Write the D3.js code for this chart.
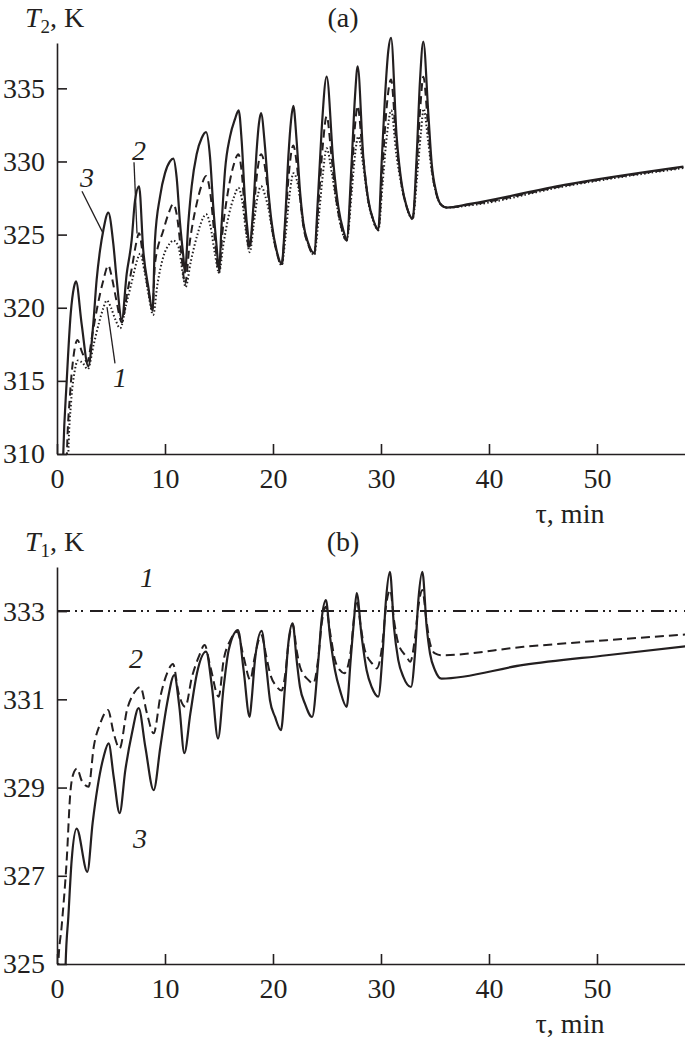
<!DOCTYPE html>
<html>
<head>
<meta charset="utf-8">
<script src="https://cdnjs.cloudflare.com/ajax/libs/d3/7.8.5/d3.min.js"></script>
<style>
  body { margin: 0; background: #fff; }
  svg { display: block; }
  text { font-family: "Liberation Serif", "Times New Roman", serif; fill: #231f20; }
</style>
</head>
<body>
<div id="chart"></div>
<script>
// time axis (min)
const tTicks = [0, 10, 20, 30, 40, 50];
const t2Ticks = [310, 315, 320, 325, 330, 335];
const t1Ticks = [325, 327, 329, 331, 333];

// panel (a): T2 vs time, curves 1 (dotted), 2 (dashed), 3 (solid)
const t2Curve3 = [
  [0.45,306],[0.58,310],[0.9,315.0],[1.27,319.6],[1.57,321.4],[1.76,321.8],[2.28,318.9],[2.9,316.0],
  [3.36,318.9],[3.67,321.9],[3.98,323.9],[4.29,325.3],[4.75,326.5],[5.21,324.4],[5.53,321.9],[6.0,319.2],
  [6.45,322.3],[6.91,324.6],[7.22,327.3],[7.6,328.3],[7.99,323.9],[8.46,321.4],[8.85,319.8],
  [9.07,324.6],[9.54,327.6],[10.0,329.2],[10.46,330.0],[10.77,330.2],[11.08,328.9],[11.39,325.8],[11.7,323.5],[11.85,322.4],
  [12.16,325.8],[12.47,328.3],[12.93,330.5],[13.4,331.6],[13.8,332.0],[14.17,330.3],[14.47,326.9],[14.78,324.2],[15.0,322.6],
  [15.25,325.8],[15.56,329.4],[16.02,331.7],[16.48,332.9],[16.82,333.5],[17.1,331.4],[17.41,327.3],[17.71,324.8],[17.81,324.2],
  [18.18,326.9],[18.49,330.8],[18.7,332.6],[18.89,333.3],[19.26,331.0],[19.57,328.0],[19.88,325.8],[20.34,323.9],[20.8,323.0],
  [21.11,325.8],[21.42,330.3],[21.67,332.8],[21.88,333.8],[22.19,331.4],[22.5,328.0],[22.81,325.8],[23.27,324.4],[23.8,323.75],
  [24.2,328.0],[24.5,332.1],[24.97,335.8],[25.59,329.9],[26.05,326.9],[26.51,325.3],[26.82,324.7],
  [27.28,329.9],[27.59,334.4],[27.84,336.5],[28.36,330.3],[28.83,327.35],[29.29,326.0],[29.75,325.35],
  [30.06,329.9],[30.37,334.4],[30.68,337.6],[30.93,338.45],[31.45,331.7],[31.91,328.5],[32.38,326.9],[32.93,326.1],
  [33.3,330.3],[33.61,335.5],[33.92,338.2],[34.38,333.3],[34.69,329.9],[35.15,327.8],[35.62,327.0],[36.08,326.85],
  [38.24,327.1],[47,328.4],[58,329.65]
];
const t2Curve2 = [
  [0.8,306],[0.92,310],[1.2,314.0],[1.5,316.5],[1.9,317.8],[2.3,317.0],[2.8,316.3],
  [3.3,318.3],[3.8,320.3],[4.3,321.9],[4.75,322.9],[5.1,322.0],[5.5,320.5],[6.0,319.0],
  [6.5,321.0],[7.0,323.0],[7.3,324.3],[7.6,325.1],[8.0,323.3],[8.45,321.2],[8.85,319.9],
  [9.07,323.0],[9.85,325.3],[10.31,326.4],[10.77,327.1],[11.08,326.4],[11.54,323.5],[11.85,321.6],
  [12.3,324.5],[12.9,327.0],[13.4,328.4],[13.8,329.0],[14.2,327.8],[14.6,324.8],[15.0,322.4],
  [15.3,325.0],[15.8,327.8],[16.3,329.6],[16.8,330.5],[17.1,329.3],[17.45,326.0],[17.8,324.0],
  [18.15,326.0],[18.5,329.0],[18.89,330.5],[19.26,329.6],[19.57,327.6],[19.88,325.6],[20.34,323.8],[20.8,322.9],
  [21.11,325.4],[21.45,329.0],[21.88,331.1],[22.19,329.9],[22.5,327.6],[22.81,325.6],[23.27,324.3],[23.8,323.6],
  [24.2,327.0],[24.6,331.0],[24.97,333.1],[25.4,330.5],[25.8,327.7],[26.3,325.6],[26.82,324.6],
  [27.28,328.8],[27.6,332.5],[27.84,333.8],[28.25,331.0],[28.83,327.3],[29.29,326.0],[29.75,325.3],
  [30.1,329.0],[30.5,333.5],[30.93,335.6],[31.4,331.5],[31.91,328.4],[32.38,326.9],[32.93,326.1],
  [33.3,329.5],[33.65,333.8],[33.92,335.8],[34.35,332.5],[34.69,329.6],[35.15,327.7],[35.62,327.0],[36.08,326.85],
  [38.24,327.05],[47,328.35],[58,329.6]
];
const t2Curve1 = [
  [0.95,306],[1.05,310],[1.3,313.5],[1.6,315.5],[1.95,316.4],[2.4,316.2],[2.85,315.8],
  [3.4,317.5],[3.9,319.0],[4.3,320.0],[4.6,320.5],[5.0,320.0],[5.4,319.2],[5.85,318.6],
  [6.4,320.2],[7.0,322.0],[7.4,323.2],[7.7,323.7],[8.1,322.5],[8.5,320.8],[8.9,319.5],
  [9.3,321.6],[9.85,323.5],[10.46,324.4],[10.77,324.6],[11.23,324.2],[11.7,322.1],[11.9,321.4],
  [12.4,323.2],[13.0,325.0],[13.5,326.1],[13.8,326.4],[14.2,325.6],[14.6,323.8],[15.0,322.4],
  [15.4,324.3],[15.9,326.3],[16.4,327.6],[16.8,328.2],[17.15,327.3],[17.5,325.2],[17.85,323.8],
  [18.2,325.6],[18.55,327.5],[18.9,328.3],[19.3,327.6],[19.6,326.7],[19.9,325.4],[20.34,323.8],[20.8,322.9],
  [21.15,324.8],[21.5,327.5],[21.9,329.2],[22.25,328.6],[22.55,327.2],[22.85,325.5],[23.3,324.3],[23.8,323.6],
  [24.25,326.3],[24.6,329.0],[24.97,330.9],[25.45,329.2],[25.85,327.3],[26.3,325.5],[26.82,324.6],
  [27.3,328.0],[27.6,330.5],[27.9,331.7],[28.3,330.0],[28.83,327.2],[29.29,325.9],[29.75,325.3],
  [30.15,328.5],[30.55,331.8],[30.95,333.5],[31.4,330.6],[31.91,328.3],[32.38,326.85],[32.93,326.05],
  [33.35,329.0],[33.7,332.0],[33.95,333.6],[34.35,331.5],[34.69,329.4],[35.15,327.7],[35.62,327.0],[36.08,326.85],
  [38.24,327.0],[47,328.3],[58,329.55]
];

// panel (b): T1 vs time, curve 1 is a constant level
const t1Curve1Level = 333;
const t1Curve2 = [
  [0.05,324.5],[0.12,325],[0.43,325.85],[0.9,327.36],[1.23,328.87],[1.5,329.3],[1.85,329.43],[2.3,329.15],[2.93,329.02],
  [3.4,329.92],[4.0,330.45],[4.72,330.76],[5.25,330.23],[5.8,329.89],
  [6.48,330.76],[7.1,331.13],[7.72,331.28],[8.33,330.68],[8.95,330.23],
  [9.57,331.06],[10.19,331.59],[10.74,331.8],[11.27,331.13],[11.88,330.83],
  [12.5,331.51],[13.12,331.96],[13.67,332.23],[14.2,331.74],[14.97,331.06],
  [15.43,331.89],[16.05,332.34],[16.67,332.53],[17.28,331.96],[17.9,331.44],
  [18.3,331.95],[18.9,332.45],[19.4,331.95],[19.72,331.59],[20.3,331.3],[20.8,331.2],
  [21.15,331.6],[21.45,332.3],[21.82,332.7],[22.2,332.1],[22.5,331.74],[23.27,331.44],[23.73,331.36],
  [24.2,331.95],[24.5,332.7],[24.88,333.1],[25.3,332.5],[25.74,331.89],[26.2,331.66],[26.6,331.59],
  [27.2,332.1],[27.5,332.85],[27.75,333.25],[28.1,332.7],[28.5,332.12],[29.29,331.78],[29.6,331.7],
  [30.15,332.3],[30.46,333.1],[30.85,333.48],[31.2,332.8],[31.6,332.27],[32.38,331.96],[32.7,331.85],
  [33.15,332.4],[33.46,333.1],[33.83,333.48],[34.2,332.8],[34.54,332.27],[35.0,332.04],[35.6,332.0],
  [43.2,332.19],[50.9,332.34],[58.2,332.47]
];
const t1Curve3 = [
  [0.75,324.5],[0.8,325.0],[1.05,326.07],[1.36,327.36],[1.82,328.07],[2.81,327.09],
  [3.3,328.2],[3.75,329.0],[4.32,329.7],[4.78,330.0],[5.25,329.24],[5.8,328.42],
  [6.33,329.4],[6.94,330.23],[7.56,330.8],[8.18,329.92],[8.95,328.94],
  [9.57,329.92],[10.19,330.9],[10.86,331.55],[11.33,330.83],[11.79,329.78],
  [12.35,330.68],[12.96,331.59],[13.8,332.08],[14.35,331.28],[14.91,330.11],
  [15.43,331.28],[15.9,332.12],[16.76,332.57],[17.28,331.66],[17.84,330.6],
  [18.02,330.98],[18.33,331.89],[18.95,332.55],[19.41,331.66],[19.72,330.98],[20.19,330.6],[20.74,330.3],
  [21.11,331.28],[21.42,332.27],[21.82,332.72],[22.19,331.89],[22.5,331.28],[22.96,330.9],[23.62,330.6],
  [24.2,331.89],[24.5,332.8],[24.9,333.25],[25.28,332.42],[25.74,331.66],[26.2,331.21],[26.82,330.83],
  [27.19,331.89],[27.5,332.8],[27.75,333.41],[28.21,332.42],[28.67,331.66],[29.14,331.28],[29.75,331.06],
  [30.15,332.04],[30.46,333.25],[30.83,333.89],[31.2,332.64],[31.6,331.89],[32.07,331.51],[32.78,331.28],
  [33.15,332.04],[33.46,333.25],[33.83,333.89],[34.23,332.64],[34.54,332.04],[35.0,331.66],[35.6,331.47],
  [43.2,331.78],[50.9,332.0],[58.2,332.2]
];

const width = 685, height = 1042;
const ink = "#231f20";

const svg = d3.select("#chart").append("svg")
    .attr("width", width)
    .attr("height", height);

const x = d3.scaleLinear().domain([0, 58.15]).range([57, 685]);

function drawPanel(id, top, bottom, yDomain, yTicks, series, opts) {
    const y = d3.scaleLinear().domain(yDomain).range([bottom, top]);

    // clip only below the x axis; peaks may rise past the axis top
    svg.append("defs").append("clipPath")
        .attr("id", "clip-" + id)
        .append("rect")
        .attr("x", 57).attr("y", top - 25)
        .attr("width", 685 - 57).attr("height", bottom - top + 25);

    const line = d3.line()
        .x(d => x(d[0]))
        .y(d => y(d[1]))
        .curve(d3.curveMonotoneX);

    const g = svg.append("g").attr("clip-path", `url(#clip-${id})`);
    series.forEach(s => {
        g.append("path")
            .datum(s.data)
            .attr("d", line)
            .attr("fill", "none")
            .attr("stroke", ink)
            .attr("stroke-width", s.width)
            .attr("stroke-dasharray", s.dash)
            .attr("stroke-linejoin", "round");
    });

    // axes, ticks pointing inward
    const xAxis = d3.axisBottom(x)
        .tickValues(tTicks)
        .tickSize(-10)
        .tickSizeOuter(0)
        .tickPadding(14);
    const yAxis = d3.axisLeft(y)
        .tickValues(yTicks)
        .tickSize(-10)
        .tickSizeOuter(0)
        .tickPadding(12);

    const gx = svg.append("g").attr("transform", `translate(0,${bottom})`).call(xAxis);
    const gy = svg.append("g").attr("transform", "translate(57,0)").call(yAxis);
    [gx, gy].forEach(a => {
        a.attr("font-family", null).attr("font-size", 28);
        a.selectAll("path, line").attr("stroke", ink).attr("stroke-width", 1.6);
        a.selectAll("text").attr("fill", ink);
    });

    svg.append("text")
        .attr("x", 570).attr("y", bottom + 69)
        .attr("text-anchor", "middle")
        .attr("font-size", 28)
        .text("τ, min");

    const title = svg.append("text")
        .attr("x", 25).attr("y", top - 16)
        .attr("font-size", 28);
    title.append("tspan").attr("font-style", "italic").text("T");
    title.append("tspan").attr("font-size", 19).attr("dy", 6).text(opts.sub);
    title.append("tspan").attr("dy", -6).text(", K");

    svg.append("text")
        .attr("x", 343).attr("y", top - 16)
        .attr("text-anchor", "middle")
        .attr("font-size", 28)
        .text(opts.panel);

    opts.labels.forEach(l => {
        svg.append("text")
            .attr("x", x(l.at[0])).attr("y", y(l.at[1]))
            .attr("text-anchor", "middle")
            .attr("font-size", 28)
            .attr("font-style", "italic")
            .text(l.text);
        if (l.from) {
            svg.append("line")
                .attr("x1", x(l.from[0])).attr("y1", y(l.from[1]))
                .attr("x2", x(l.to[0])).attr("y2", y(l.to[1]))
                .attr("stroke", ink)
                .attr("stroke-width", 1.3);
        }
    });
}

drawPanel("a", 43, 454, [310, 338.1], t2Ticks, [
    { data: t2Curve1, width: 2, dash: "1.5,2.3" },
    { data: t2Curve2, width: 2, dash: "8,5" },
    { data: t2Curve3, width: 2.2, dash: null }
], {
    sub: "2", panel: "(a)",
    labels: [
        { text: "3", at: [2.78, 328.24], from: [2.31, 327.96], to: [4.26, 325.1] },
        { text: "2", at: [7.59, 330.08], from: [7.13, 329.95], to: [7.41, 325.08] },
        { text: "1", at: [5.83, 314.58], from: [5.37, 316.2], to: [4.63, 320.04] }
    ]
});

drawPanel("b", 567, 964, [325, 334], t1Ticks, [
    { data: [[0, t1Curve1Level], [58.15, t1Curve1Level]], width: 2, dash: "13,5,2,4,2,7" },
    { data: t1Curve2, width: 2, dash: "9,5" },
    { data: t1Curve3, width: 2.2, dash: null }
], {
    sub: "1", panel: "(b)",
    labels: [
        { text: "1", at: [8.33, 333.54] },
        { text: "2", at: [7.31, 331.71] },
        { text: "3", at: [7.69, 327.63] }
    ]
});
</script>
</body>
</html>
